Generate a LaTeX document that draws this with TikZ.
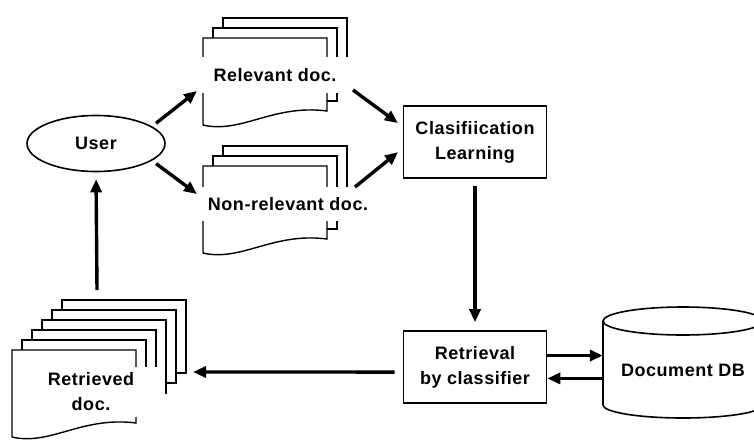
\documentclass[tikz,border=0pt]{standalone}
\usepackage{fontspec}
\setmainfont{Liberation Sans}[LetterSpace=3]
\usetikzlibrary{arrows.meta,shapes.geometric}

% stack of pages: #1,#2 = top left of the front page, #3 = pages behind it
\newcommand{\docstack}[3]{
	\foreach \k in {1,...,#3}{
		\draw[page] ({#1+10*\k},{#2-10*\k+10}) -- ({#1+10*\k},{#2-10*\k}) -- ({#1+124+10*\k},{#2-10*\k}) -- ({#1+124+10*\k},{#2+73-10*\k}) -- ({#1+114+10*\k},{#2+73-10*\k});
	}
	\draw[page] (#1,#2+87) -- (#1,#2) -- (#1+124,#2) -- (#1+124,#2+73) .. controls (#1+70,#2+66) and (#1+38,#2+96) .. (#1,#2+87);
}

\begin{document}
\begin{tikzpicture}[x=1pt, y=-1pt,
	font=\bfseries\fontsize{18}{25}\selectfont,
	box/.style={draw=black, line width=1.6pt, minimum width=143pt, minimum height=72pt, align=center},
	page/.style={draw=black, line width=1.4pt},
	lbl/.style={fill=white, inner sep=0pt, align=center},
	arr/.style={-{Triangle[length=13pt,width=11pt]}, line width=3.4pt}]
	
	\clip (0,0) rectangle (754,439);
	\fill[white] (0,0) rectangle (754,439);
	
	% document stacks
	\docstack{203}{38}{2}
	\docstack{203}{166}{2}
	\docstack{12}{350}{5}
	
	% database cylinder
	\draw[line width=1.6pt] (683,321) ellipse [x radius=80, y radius=14];
	\draw[line width=1.6pt] (603,321) -- (603,405) arc[start angle=180, end angle=0, x radius=80, y radius=13] -- (763,321);
	
	\node[shape=ellipse, draw=black, line width=1.6pt, inner ysep=13pt, minimum width=138pt, minimum height=56pt] (user) at (96,143.5) {User};
	\node[lbl, minimum width=154pt, minimum height=36pt] (reldoc) at (275,75) {Relevant doc.};
	\node[lbl, minimum width=176pt, minimum height=34pt] (nonrel) at (288,204) {Non-relevant doc.};
	\node[lbl, minimum width=148pt, minimum height=50pt] (retdoc) at (91,392) {Retrieved\\doc.};
	\node[box] (learn) at (475,142) {Clasifiication\\Learning};
	\node[box] (retr) at (475,367) {Retrieval\\by classifier};
	\node[minimum width=160pt, minimum height=70pt] (db) at (683,370) {Document DB};
	
	\coordinate (relin) at (197,91);
	\coordinate (relout) at (353,90);
	\coordinate (nonin) at (197,194);
	\coordinate (nonout) at (355,187);
	\coordinate (retin) at (193,372);
	\coordinate (retout) at (97,290);
	
	\draw[arr, shorten <=5pt] (user.17) -- (relin);
	\draw[arr, shorten <=5pt] (user.-17) -- (nonin);
	\draw[arr, shorten >=6pt] (relout) -- (learn.168);
	\draw[arr, shorten >=6pt] (nonout) -- (learn.185);
	\draw[arr, shorten <=7pt, shorten >=8pt] (learn.south) -- (retr.north);
	\draw[arr] (retr.9.4) -- (retr.9.4 -| db.west);
	\draw[arr] (retr.-9.4 -| db.west) -- (retr.-9.4);
	\draw[arr, shorten <=8pt] (retr.184) -- (retin);
	\draw[arr, shorten >=7pt] (retout) -- (user.south);
	
\end{tikzpicture}
\end{document}
